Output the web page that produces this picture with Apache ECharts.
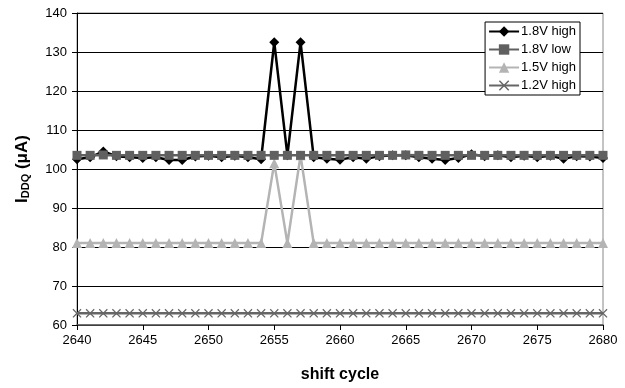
<!DOCTYPE html>
<html><head><meta charset="utf-8">
<script src="https://cdn.jsdelivr.net/npm/echarts@6/dist/echarts.min.js"></script>
<style>html,body{margin:0;padding:0;background:#fff}#c{width:625px;height:388px}</style>
</head><body><div id="c"></div>
<script>
const cycles = [2640,2641,2642,2643,2644,2645,2646,2647,2648,2649,2650,2651,2652,2653,2654,2655,2656,2657,2658,2659,2660,2661,2662,2663,2664,2665,2666,2667,2668,2669,2670,2671,2672,2673,2674,2675,2676,2677,2678,2679,2680];
const v18high = [102.5,103,104.5,103.3,103,102.8,103,102.3,102.3,103.2,103.4,103,103.4,103,102.5,132.5,103.5,132.5,103,102.6,102.4,103,102.6,103.3,103.5,103.5,103,102.6,102.3,102.8,103.8,103.3,103.5,103,103.4,103,103.4,102.6,103.3,103.2,102.8];
const v18low = [103.5,103.5,103.6,103.5,103.5,103.5,103.5,103.5,103.5,103.5,103.5,103.5,103.5,103.5,103.5,103.5,103.5,103.5,103.5,103.5,103.5,103.5,103.5,103.5,103.5,103.6,103.5,103.5,103.5,103.5,103.5,103.5,103.5,103.5,103.5,103.5,103.5,103.5,103.5,103.5,103.5];
const v15high = [81,81,81,81,81,81,81,81,81,81,81,81,81,81,81,101.5,81,103.5,81,81,81,81,81,81,81,81,81,81,81,81,81,81,81,81,81,81,81,81,81,81,81];
const v12high = [63,63,63,63,63,63,63,63,63,63,63,63,63,63,63,63,63,63,63,63,63,63,63,63,63,63,63,63,63,63,63,63,63,63,63,63,63,63,63,63,63];
const seriesNames = ['1.8V high','1.8V low','1.5V high','1.2V high'];
const xTicks = {min:2640,max:2680,interval:5};
const yTicks = {min:60,max:140,interval:10};

const pairs = vals => cycles.map((c,i)=>[c, vals[i]]);
const xSym = 'path://M0,1L1,0L5,4L9,0L10,1L6,5L10,9L9,10L5,6L1,10L0,9L4,5Z';
const font = 'Liberation Sans, Arial, sans-serif';

const chart = echarts.init(document.getElementById('c'), null, {renderer:'canvas'});
function mk(name, vals, color, symbol, size, z){
  return {name, type:'line', data:pairs(vals), symbol, symbolSize:size, z,
    lineStyle:{color, width:2.5}, itemStyle:{color, borderWidth:0}, emphasis:{disabled:true}, animation:false};
}
chart.setOption({
  animation:false,
  grid:{left:77, right:22, top:13, bottom:62, show:true, borderColor:'#888', borderWidth:1},
  legend:{
    data:seriesNames, orient:'vertical', right:45, top:22,
    backgroundColor:'#fff', borderColor:'#000', borderWidth:1, borderRadius:0,
    padding:[3,4,3,3], itemGap:5, itemWidth:30, itemHeight:13,
    textStyle:{fontFamily:font, fontSize:13, color:'#000', padding:[0,0,0,-3]}
  },
  xAxis:{type:'value', min:xTicks.min, max:xTicks.max, interval:xTicks.interval,
    name:'shift cycle', nameLocation:'middle', nameGap:42,
    nameTextStyle:{fontFamily:font, fontSize:16, fontWeight:'bold', color:'#000'},
    axisLine:{show:true, onZero:false, lineStyle:{color:'#555', width:1.5}},
    axisTick:{show:true, length:5, lineStyle:{color:'#000'}},
    axisLabel:{fontFamily:font, fontSize:13, color:'#000', margin:9, formatter:v=>String(v)},
    splitLine:{show:false}},
  yAxis:{type:'value', min:yTicks.min, max:yTicks.max, interval:yTicks.interval,
    name:'{b|I}{s|DDQ}{b| (μA)}', nameLocation:'middle', nameGap:46, nameRotate:90,
    nameTextStyle:{rich:{b:{fontFamily:font, fontSize:17, fontWeight:'bold', color:'#000'},
      s:{fontFamily:font, fontSize:11, fontWeight:'bold', color:'#000', verticalAlign:'bottom', padding:[7,0,0,0]}}},
    axisLine:{show:true, lineStyle:{color:'#000', width:1}},
    axisTick:{show:true, length:5, lineStyle:{color:'#000'}},
    axisLabel:{fontFamily:font, fontSize:13, color:'#000', margin:10},
    splitLine:{show:true, lineStyle:{color:'#000', width:1}}},
  series:[
    mk('1.8V high', v18high, '#000000', 'diamond', 10, 4),
    mk('1.8V low', v18low, '#606060', 'rect', 9, 5),
    mk('1.5V high', v15high, '#b4b4b4', 'triangle', 10, 3),
    mk('1.2V high', v12high, '#666666', xSym, 9, 2)
  ]
});
</script></body></html>
